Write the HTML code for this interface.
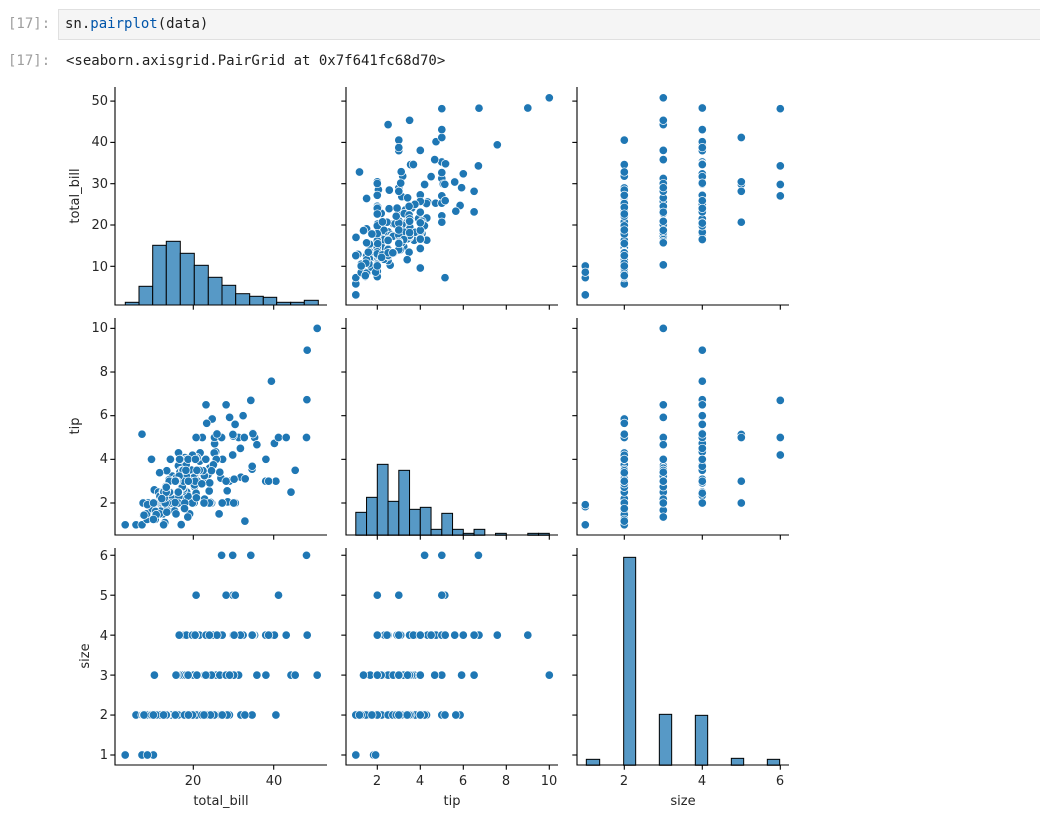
<!DOCTYPE html>
<html><head><meta charset="utf-8"><style>
body{margin:0;background:#fff;width:1040px;height:817px;overflow:hidden;position:relative;font-family:"DejaVu Sans","Liberation Sans",sans-serif}
.mono{font-family:"DejaVu Sans Mono","Liberation Mono",monospace;font-size:14px;position:absolute}
</style></head><body>
<div class="mono" style="left:8px;top:16px;color:#9e9e9e">[17]:</div>
<div style="position:absolute;left:58px;top:9px;width:990px;height:29px;background:#f5f5f5;border:1px solid #e0e0e0"></div>
<div class="mono" style="left:65px;top:16px;color:#212121">sn.<span style="color:#0055aa">pairplot</span>(data)</div>
<div class="mono" style="left:8px;top:53px;color:#9e9e9e">[17]:</div>
<div class="mono" style="left:66px;top:53px;color:#212121">&lt;seaborn.axisgrid.PairGrid at 0x7f641fc68d70&gt;</div>
<svg id="s" width="1040" height="817" style="position:absolute;left:0;top:0" font-family="DejaVu Sans, Liberation Sans, sans-serif" font-size="13" fill="#262626">
<g id="pts"></g>
<g id="axes" stroke="#000" stroke-width="1.1"></g>
<g text-anchor="end">
<text x="108" y="105">50</text><text x="108" y="146">40</text><text x="108" y="188">30</text><text x="108" y="229">20</text><text x="108" y="271">10</text>
<text x="108" y="332">10</text><text x="108" y="376">8</text><text x="108" y="419">6</text><text x="108" y="463">4</text><text x="108" y="507">2</text>
<text x="108" y="560">6</text><text x="108" y="600">5</text><text x="108" y="640">4</text><text x="108" y="680">3</text><text x="108" y="719">2</text><text x="108" y="759">1</text>
</g>
<g text-anchor="middle">
<text x="193" y="785">20</text><text x="274" y="785">40</text>
<text x="377" y="785">2</text><text x="420" y="785">4</text><text x="463" y="785">6</text><text x="506" y="785">8</text><text x="549" y="785">10</text>
<text x="624" y="785">2</text><text x="702" y="785">4</text><text x="780" y="785">6</text>
<text x="221" y="805">total_bill</text><text x="452" y="805">tip</text><text x="683" y="805">size</text>
<text transform="translate(79,196) rotate(-90)">total_bill</text>
<text transform="translate(79,426) rotate(-90)">tip</text>
<text transform="translate(89,656) rotate(-90)">size</text>
</g>
</svg>
<script>
const D=`16.99,1.01,2;10.34,1.66,3;21.01,3.5,3;23.68,3.31,2;24.59,3.61,4;25.29,4.71,4;8.77,2,2;26.88,3.12,4;15.04,1.96,2;14.78,3.23,2;10.27,1.71,2;35.26,5,4;15.42,1.57,2;18.43,3,4;14.83,3.02,2;21.58,3.92,2;10.33,1.67,3;16.29,3.71,3;16.97,3.5,3;20.65,3.35,3;17.92,4.08,2;20.29,2.75,2;15.77,2.23,2;39.42,7.58,4;19.82,3.18,2;17.81,2.34,4;13.37,2,2;12.69,2,2;21.7,4.3,2;19.65,3,2;9.55,1.45,2;18.35,2.5,4;15.06,3,2;20.69,2.45,4;17.78,3.27,2;24.06,3.6,3;16.31,2,3;16.93,3.07,3;18.69,2.31,3;31.27,5,3;16.04,2.24,3;17.46,2.54,2;13.94,3.06,2;9.68,1.32,2;30.4,5.6,4;18.29,3,2;22.23,5,2;32.4,6,4;28.55,2.05,3;18.04,3,2;12.54,2.5,2;10.29,2.6,2;34.81,5.2,4;9.94,1.56,2;25.56,4.34,4;19.49,3.51,2;38.01,3,4;26.41,1.5,2;11.24,1.76,2;48.27,6.73,4;20.29,3.21,2;13.81,2,2;11.02,1.98,2;18.29,3.76,4;17.59,2.64,3;20.08,3.15,3;16.45,2.47,2;3.07,1,1;20.23,2.01,2;15.01,2.09,2;12.02,1.97,2;17.07,3,3;26.86,3.14,2;25.28,5,2;14.73,2.2,2;10.51,1.25,2;17.92,3.08,2;27.2,4,4;22.76,3,2;17.29,2.71,2;19.44,3,2;16.66,3.4,2;10.07,1.83,1;32.68,5,2;15.98,2.03,2;34.83,5.17,4;13.03,2,2;18.28,4,2;24.71,5.85,2;21.16,3,2;28.97,3,2;22.49,3.5,2;5.75,1,2;16.32,4.3,2;22.75,3.25,2;40.17,4.73,4;27.28,4,2;12.03,1.5,2;21.01,3,2;12.46,1.5,2;11.35,2.5,2;15.38,3,2;44.3,2.5,3;22.42,3.48,2;20.92,4.08,2;15.36,1.64,2;20.49,4.06,2;25.21,4.29,2;18.24,3.76,2;14.31,4,2;14,3,2;7.25,1,1;38.07,4,3;23.95,2.55,2;25.71,4,3;17.31,3.5,2;29.93,5.07,4;10.65,1.5,2;12.43,1.8,2;24.08,2.92,4;11.69,2.31,2;13.42,1.68,2;14.26,2.5,2;15.95,2,2;12.48,2.52,2;29.8,4.2,6;8.52,1.48,2;14.52,2,2;11.38,2,2;22.82,2.18,3;19.08,1.5,2;20.27,2.83,2;11.17,1.5,2;12.26,2,2;18.26,3.25,2;8.51,1.25,2;10.33,2,2;14.15,2,2;16,2,2;13.16,2.75,2;17.47,3.5,2;34.3,6.7,6;41.19,5,5;27.05,5,6;16.43,2.3,2;8.35,1.5,2;18.64,1.36,3;11.87,1.63,2;9.78,1.73,2;7.51,2,2;14.07,2.5,2;13.13,2,2;17.26,2.74,3;24.55,2,4;19.77,2,4;29.85,5.14,5;48.17,5,6;25,3.75,4;13.39,2.61,2;16.49,2,4;21.5,3.5,4;12.66,2.5,2;16.21,2,3;13.81,2,2;17.51,3,2;24.52,3.48,3;20.76,2.24,2;31.71,4.5,4;10.59,1.61,2;10.63,2,2;50.81,10,3;15.81,3.16,2;7.25,5.15,2;31.85,3.18,2;16.82,4,2;32.9,3.11,2;17.89,2,2;14.48,2,2;9.6,4,2;34.63,3.55,2;34.65,3.68,4;23.33,5.65,2;45.35,3.5,3;23.17,6.5,4;40.55,3,2;20.69,5,5;20.9,3.5,3;30.46,2,5;18.15,3.5,3;23.1,4,3;15.69,1.5,2;19.81,4.19,2;28.44,2.56,2;15.48,2.02,2;16.58,4,2;7.56,1.44,2;10.34,2,2;43.11,5,4;13,2,2;13.51,2,2;18.71,4,3;12.74,2.01,2;13,2,2;16.4,2.5,2;20.53,4,4;16.47,3.23,3;26.59,3.41,3;38.73,3,4;24.27,2.03,2;12.76,2.23,2;30.06,2,3;25.89,5.16,4;48.33,9,4;13.27,2.5,2;28.17,6.5,3;12.9,1.1,2;28.15,3,5;11.59,1.5,2;7.74,1.44,2;30.14,3.09,4;12.16,2.2,2;13.42,3.48,2;8.58,1.92,1;15.98,3,3;13.42,1.58,2;16.27,2.5,2;10.09,2,2;20.45,3,4;13.28,2.72,2;22.12,2.88,2;24.01,2,4;15.69,3,3;11.61,3.39,2;10.77,1.47,2;15.53,3,2;10.07,1.25,2;12.6,1,2;32.83,1.17,2;35.83,4.67,3;29.03,5.92,3;27.18,2,2;22.67,2,2;17.82,1.75,2;18.78,3,2`.split(';').map(r=>r.split(',').map(Number));
const X=[v=>193.3+(v-20)*4.02,v=>377.3+(v-2)*21.5,v=>624.3+(v-2)*39];
const Y=[v=>266.3-(v-10)*4.13,v=>503-(v-2)*21.83,v=>755-(v-1)*39.95];
const NS='http://www.w3.org/2000/svg';
const pts=document.getElementById('pts'),ax=document.getElementById('axes');
function el(t,a,p){const e=document.createElementNS(NS,t);for(const k in a)e.setAttribute(k,a[k]);p.appendChild(e);return e;}
for(let r=0;r<3;r++)for(let c=0;c<3;c++){if(r==c)continue;
 for(const d of D)el('circle',{cx:X[c](d[c]).toFixed(1),cy:Y[r](d[r]).toFixed(1),r:4.2,fill:'#1f77b4',stroke:'#fff','stroke-width':0.7},pts);}
const HF='#5799c6';
function bar(x0,x1,top,bot){el('rect',{x:x0,y:top,width:x1-x0,height:bot-top,fill:HF,stroke:'#000','stroke-width':1},pts);}
const e1=[125.3,139,152.7,166.3,180.3,194.3,208.3,222,235.7,249.7,263.3,276.7,290.7,304.3,318.3];
const t1=[302.3,286.3,245.3,241.3,253.3,265.3,277.3,285.3,293.7,296.3,297.3,302.3,302.3,300.3];
for(let i=0;i<14;i++)bar(e1[i],e1[i+1],t1[i],305);
const t2=[277,232,133,244,151,268,262,328,280,328,340,328,null,340,null,null,340,340];
for(let i=0;i<18;i++)if(t2[i]!==null){const a=355.8+i*10.75;bar(a,a+10.75,420+t2[i]/3,535.3);}
const sb=[[49,89,658],[161,197,52],[268,305,523],[376,413,526],[484,521,655],[592,629,658]];
for(const b of sb)bar(570+b[0]/3,570+b[1]/3,540+b[2]/3,765.3);
const CX=[[115,327],[346,558],[577,789]],RY=[[87,305],[318,535],[548,765]];
const XT=[[20,40],[2,4,6,8,10],[2,4,6]],YT=[[10,20,30,40,50],[2,4,6,8,10],[1,2,3,4,5,6]];
for(let r=0;r<3;r++)for(let c=0;c<3;c++){const [x0,x1]=CX[c],[y0,y1]=RY[r];
 el('line',{x1:x0,y1:y0,x2:x0,y2:y1+0.5},ax);el('line',{x1:x0-0.5,y1:y1,x2:x1,y2:y1},ax);
 for(const t of XT[c]){const x=X[c](t);el('line',{x1:x,y1:y1,x2:x,y2:y1+4.7},ax);}
 for(const t of YT[r]){const y=Y[r](t);el('line',{x1:x0,y1:y,x2:x0-4.7,y2:y},ax);}
}
</script>
</body></html>
